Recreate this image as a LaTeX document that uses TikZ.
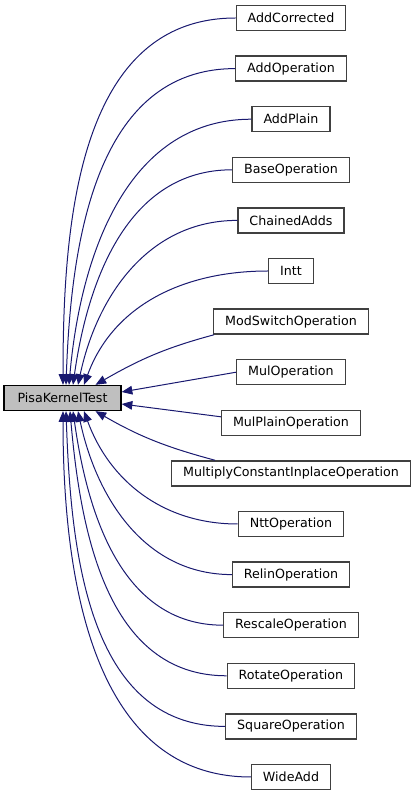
\documentclass[tikz,border=0pt]{standalone}
\usepackage{fontspec}
\setmainfont{DejaVu Sans}
\usetikzlibrary{arrows.meta,calc}
\definecolor{EdgeClr}{HTML}{191970}
\definecolor{BoxClr}{HTML}{404040}
\definecolor{BaseClr}{HTML}{BFBFBF}

\tikzset{
  cls/.style={draw=BoxClr,line width=1pt,fill=white,minimum height=18.75pt,
    inner xsep=8.6pt,inner ysep=0pt,font=\fontsize{9.5}{11}\selectfont},
  basecls/.style={cls,draw=black,fill=BaseClr},
  edge/.style={draw=EdgeClr,line width=0.75pt,-{Triangle[length=8pt,width=6.5pt]}}
}

\begin{document}
\begin{tikzpicture}[x=0.75pt,y=0.75pt]
\useasboundingbox (0,0) rectangle (419,797);

\node[basecls,minimum width=87.75pt] (base) at (62.5,399) {PisaKernelTest};

\foreach \name [count=\i] in {AddCorrected,AddOperation,AddPlain,BaseOperation,
  ChainedAdds,Intt,ModSwitchOperation,MulOperation,MulPlainOperation,
  MultiplyConstantInplaceOperation,NttOperation,RelinOperation,RescaleOperation,
  RotateOperation,SquareOperation,WideAdd}
  \node[cls] (n\i) at (291,{779-50.6*(\i-1)}) {\name};

% arrows into the top of the base
\foreach \i/\dx/\a in {1/0.5/90,2/3.5/88,3/6.5/85,4/10.5/82,5/15.5/78,6/21.5/70}
  \draw[edge] (n\i.west) to[out=180,in=\a] ($(base.north)+(\dx,0)$);
\draw[edge] ($(n7.south west)+(1,0)$) to[out=195,in=30] ($(base.north)+(33,0)$);

% arrows into the side
\draw[edge] (n8.west) -- ($(base.east)+(0,6)$);
\draw[edge] ($(n9.west)+(0,6)$) -- ($(base.east)+(0,-6)$);

% arrows into the bottom of the base
\draw[edge] ($(n10.north west)+(44,0)$) to[out=165,in=-30] ($(base.south)+(33,0)$);
\foreach \i/\dx/\a in {11/21.5/-70,12/15.5/-78,13/10.5/-82,14/7.5/-85,15/3.5/-88,16/0.5/-90}
  \draw[edge] (n\i.west) to[out=180,in=\a] ($(base.south)+(\dx,0)$);

\end{tikzpicture}
\end{document}
